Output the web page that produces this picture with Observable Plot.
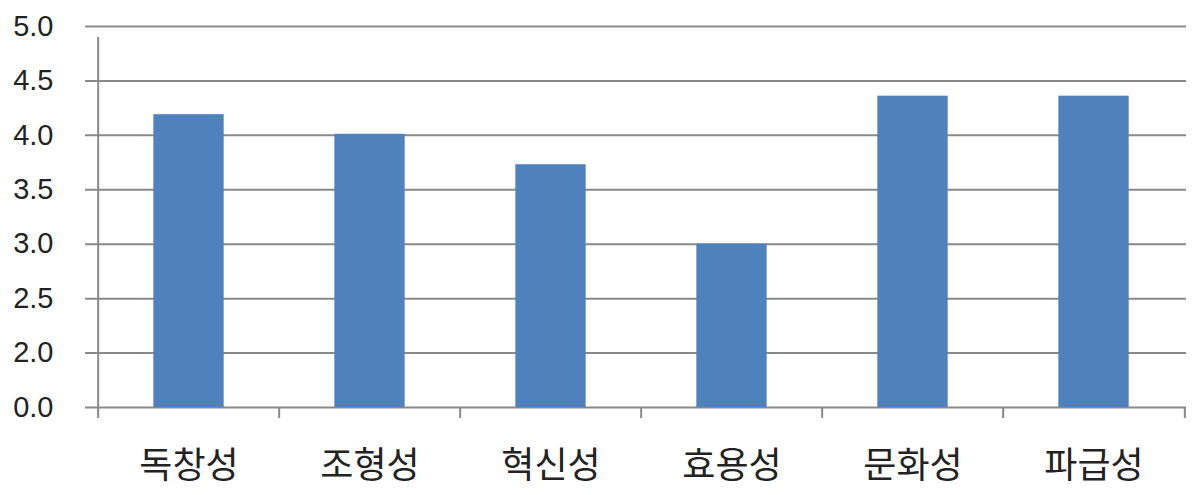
<!DOCTYPE html>
<html>
<head>
<meta charset="utf-8">
<script src="https://cdn.jsdelivr.net/npm/d3@7"></script>
<script src="https://cdn.jsdelivr.net/npm/@observablehq/plot@0.6"></script>
<style>
  html, body { margin: 0; padding: 0; background: #fff; }
  #chart svg { display: block; }
</style>
</head>
<body>
<div id="chart"></div>
<script>
const categories = ["독창성", "조형성", "혁신성", "효용성", "문화성", "파급성"];
const values = [4.19, 4.01, 3.73, 3.00, 4.36, 4.36];
// broken axis: the bottom tick stands for 0.0
const yTicks = [1.5, 2.0, 2.5, 3.0, 3.5, 4.0, 4.5, 5.0];
const yTickLabels = ["0.0", "2.0", "2.5", "3.0", "3.5", "4.0", "4.5", "5.0"];

const data = categories.map((c, i) => ({category: c, value: values[i]}));

const W = 1200, H = 495;
const mL = 96, mR = 14, mT = 26, mB = 88;
const step = (W - mL - mR) / categories.length;
const barW = 71;
const inset = (step - barW) / 2;
const grid = "#898989";

const plot = Plot.plot({
  width: W,
  height: H,
  marginLeft: mL,
  marginRight: mR,
  marginTop: mT,
  marginBottom: mB,
  style: {background: "#fff", color: "#222"},
  x: {domain: categories, padding: 0, axis: null, label: null},
  y: {domain: [1.5, 5], axis: null, label: null},
  marks: [
    Plot.ruleY(yTicks, {stroke: grid, strokeWidth: 2, insetLeft: -11}),
    Plot.barY(data, {x: "category", y1: 1.5, y2: "value", fill: "#4F81BD", insetLeft: inset, insetRight: inset}),
    // y axis line
    Plot.ruleX([categories[0]], {dx: -step / 2, y1: 1.5, y2: 5, stroke: grid, strokeWidth: 2, insetBottom: -11}),
    // category boundary ticks
    Plot.ruleX(categories, {dx: -step / 2, y1: 1.5, y2: 1.5, stroke: grid, strokeWidth: 2, insetBottom: -11}),
    Plot.ruleX([categories[categories.length - 1]], {dx: step / 2, y1: 1.5, y2: 1.5, stroke: grid, strokeWidth: 2, insetBottom: -11}),
    Plot.axisY({
      ticks: yTicks,
      tickFormat: (d) => yTickLabels[yTicks.indexOf(d)],
      tickSize: 0,
      tickPadding: 43,
      fontSize: 29,
      label: null,
      fontFamily: "Liberation Sans, Arial, sans-serif"
    }),
    Plot.axisX({
      tickSize: 0,
      tickPadding: 45,
      fontSize: 36,
      label: null,
      fontFamily: "Noto Sans CJK KR, sans-serif"
    })
  ]
});
document.getElementById("chart").appendChild(plot);
</script>
</body>
</html>
